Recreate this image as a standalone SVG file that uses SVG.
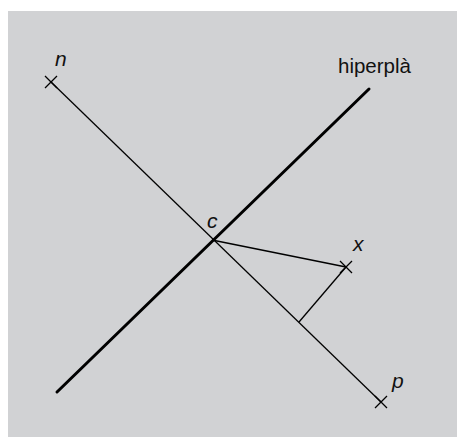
<svg xmlns="http://www.w3.org/2000/svg" width="457" height="437" viewBox="0 0 457 437">
<style>
.thin{stroke:#000;stroke-width:1.3;fill:none;stroke-linecap:butt}
.thick{stroke:#000;stroke-width:3;fill:none;stroke-linecap:round}
.lbl{font-family:"Liberation Sans",Arial,sans-serif;font-size:21px;font-style:italic;fill:#111}
.name{font-family:"Liberation Sans",Arial,sans-serif;font-size:20.5px;fill:#111}
</style>
<rect x="0" y="0" width="457" height="437" fill="#ffffff"/>
<rect x="8" y="11" width="449" height="426" fill="#d1d2d4"/>
<g id="lines">
<line class="thin" x1="51" y1="82" x2="381" y2="402"/>
<line class="thick" x1="57" y1="392" x2="369" y2="89"/>
<line class="thin" x1="212" y1="240" x2="346" y2="267"/>
<line class="thin" x1="346" y1="267" x2="299" y2="322"/>
</g>
<g id="point-n">
<path class="thin" d="M45,76 L57,88 M45,88 L57,76"/>
<text class="lbl" x="55" y="66">n</text>
</g>
<g id="point-p">
<path class="thin" d="M375,396 L387,408 M375,408 L387,396"/>
<text class="lbl" x="392" y="388">p</text>
</g>
<g id="point-x">
<path class="thin" d="M340,261 L352,273 M340,273 L352,261"/>
<text class="lbl" x="353" y="251">x</text>
</g>
<g id="point-c">
<text class="lbl" x="207" y="228">c</text>
</g>
<g id="hyperplane">
<text class="name" x="338" y="73">hiperplà</text>
</g>
</svg>
